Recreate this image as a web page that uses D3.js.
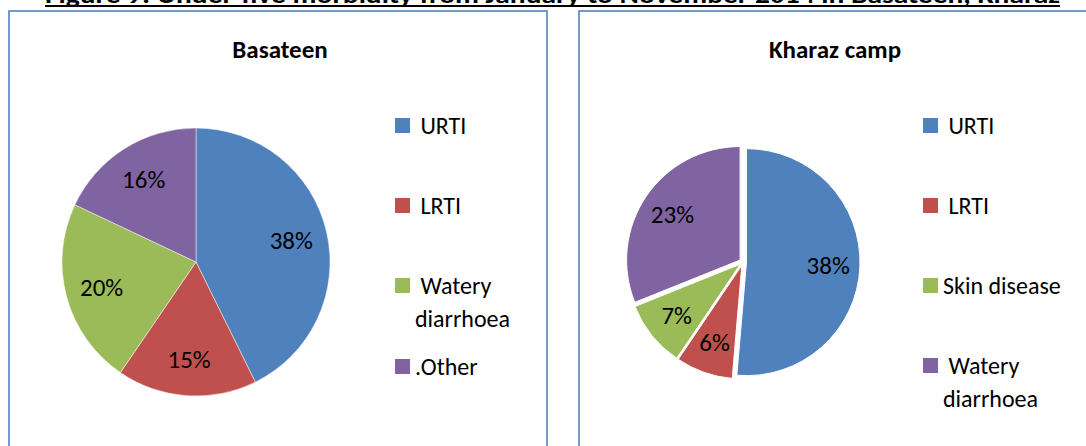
<!DOCTYPE html>
<html>
<head>
<meta charset="utf-8">
<script src="https://cdn.jsdelivr.net/npm/d3@7"></script>
<style>
  html, body { margin: 0; padding: 0; background: #fff; }
  svg { display: block; }
  text { font-family: Carlito, Calibri, Lato, "Open Sans", sans-serif; }
</style>
</head>
<body>
<svg id="chart" width="1086" height="446"></svg>
<script>
// ---- data ----
const figureTitle = "Figure 9: Under-five morbidity from January to November 2014 in Basateen, Kharaz";
const basateenTitle = "Basateen";
const basateenCategories = [" URTI", " LRTI", " Watery diarrhoea", ".Other"];
const basateenValues = [38, 15, 20, 16];
const kharazTitle = "Kharaz camp";
const kharazCategories = [" URTI", " LRTI", "Skin disease", " Watery diarrhoea"];
const kharazValues = [38, 6, 7, 23];
const colors = ["#4f81bd", "#c0504d", "#9bbb59", "#8064a2"];

// ---- layout ----
const W = 1086, H = 446;
const svg = d3.select("#chart");

// figure title (clipped at top, underlined)
svg.append("text")
  .attr("x", 45).attr("y", 3)
  .attr("font-size", 24).attr("font-weight", "bold").attr("fill", "#000")
  .attr("textLength", 1015).attr("lengthAdjust", "spacingAndGlyphs")
  .text(figureTitle);
svg.append("line").attr("x1", 45).attr("x2", 1060).attr("y1", 6).attr("y2", 6)
  .attr("stroke", "#000").attr("stroke-width", 2);

const panels = [
  { x: 9, y: 11, w: 538, h: 480, title: basateenTitle, titleX: 280,
    cats: basateenCategories, vals: basateenValues,
    cx: 196, cy: 262, r: 134, explode: 0, labelK: 0.73,
    legX: 395, textX: 415, rowY: [134, 214, 294, 375], wrapW: 128 },
  { x: 579, y: 11, w: 530, h: 480, title: kharazTitle, titleX: 835,
    cats: kharazCategories, vals: kharazValues,
    cx: 743, cy: 262, r: 113.5, explode: 3.5, labelK: 0.72,
    legX: 923, textX: 943, rowY: [134, 214, 294, 374], wrapW: 138 }
];

panels.forEach(p => {
  const g = svg.append("g");
  g.append("rect").attr("x", p.x).attr("y", p.y).attr("width", p.w).attr("height", p.h)
    .attr("fill", "none").attr("stroke", "#4f81bd").attr("stroke-width", 1.6);

  g.append("text").attr("x", p.titleX).attr("y", 58)
    .attr("text-anchor", "middle").attr("font-size", 25).attr("font-weight", "bold")
    .text(p.title);

  const pie = d3.pie().sort(null).value(d => d);
  const arcs = pie(p.vals);
  const arc = d3.arc().innerRadius(0).outerRadius(p.r);
  const labelArc = d3.arc().innerRadius(p.r * p.labelK).outerRadius(p.r * p.labelK);

  const sg = g.append("g").attr("transform", `translate(${p.cx},${p.cy})`);
  const slices = sg.selectAll("g.slice").data(arcs).join("g").attr("class", "slice")
    .attr("transform", d => {
      const a = (d.startAngle + d.endAngle) / 2;
      return `translate(${Math.sin(a) * p.explode},${-Math.cos(a) * p.explode})`;
    });
  slices.append("path").attr("d", arc)
    .attr("fill", (d, i) => colors[i])
    .attr("stroke", p.explode > 0 ? "#fff" : "rgba(255,255,255,0.6)")
    .attr("stroke-width", p.explode > 0 ? 1 : 0.8);
  slices.append("text")
    .attr("transform", d => `translate(${labelArc.centroid(d)})`)
    .attr("text-anchor", "middle").attr("dy", "0.35em")
    .attr("font-size", 25).attr("fill", "#000")
    .text(d => d.data + "%");

  // legend
  const lg = g.append("g");
  p.cats.forEach((c, i) => {
    const y = p.rowY[i];
    lg.append("rect").attr("x", p.legX).attr("y", y - 16).attr("width", 15).attr("height", 15)
      .attr("fill", colors[i]);
    const t = lg.append("text").attr("x", p.textX).attr("y", y)
      .attr("font-size", 24).attr("fill", "#000").attr("xml:space", "preserve");
    const words = c.split(/(?<=\S) /);
    let line = "", lines = [];
    const probe = t.append("tspan");
    words.forEach(w => {
      const trial = line ? line + " " + w : w;
      probe.text(trial);
      if (line && probe.node().getComputedTextLength() > p.wrapW) {
        lines.push(line); line = w.trimStart();
      } else line = trial;
    });
    lines.push(line);
    probe.remove();
    lines.forEach((l, k) => {
      t.append("tspan").attr("x", p.textX).attr("dy", k === 0 ? 0 : 33).text(l);
    });
  });
});
</script>
</body>
</html>
